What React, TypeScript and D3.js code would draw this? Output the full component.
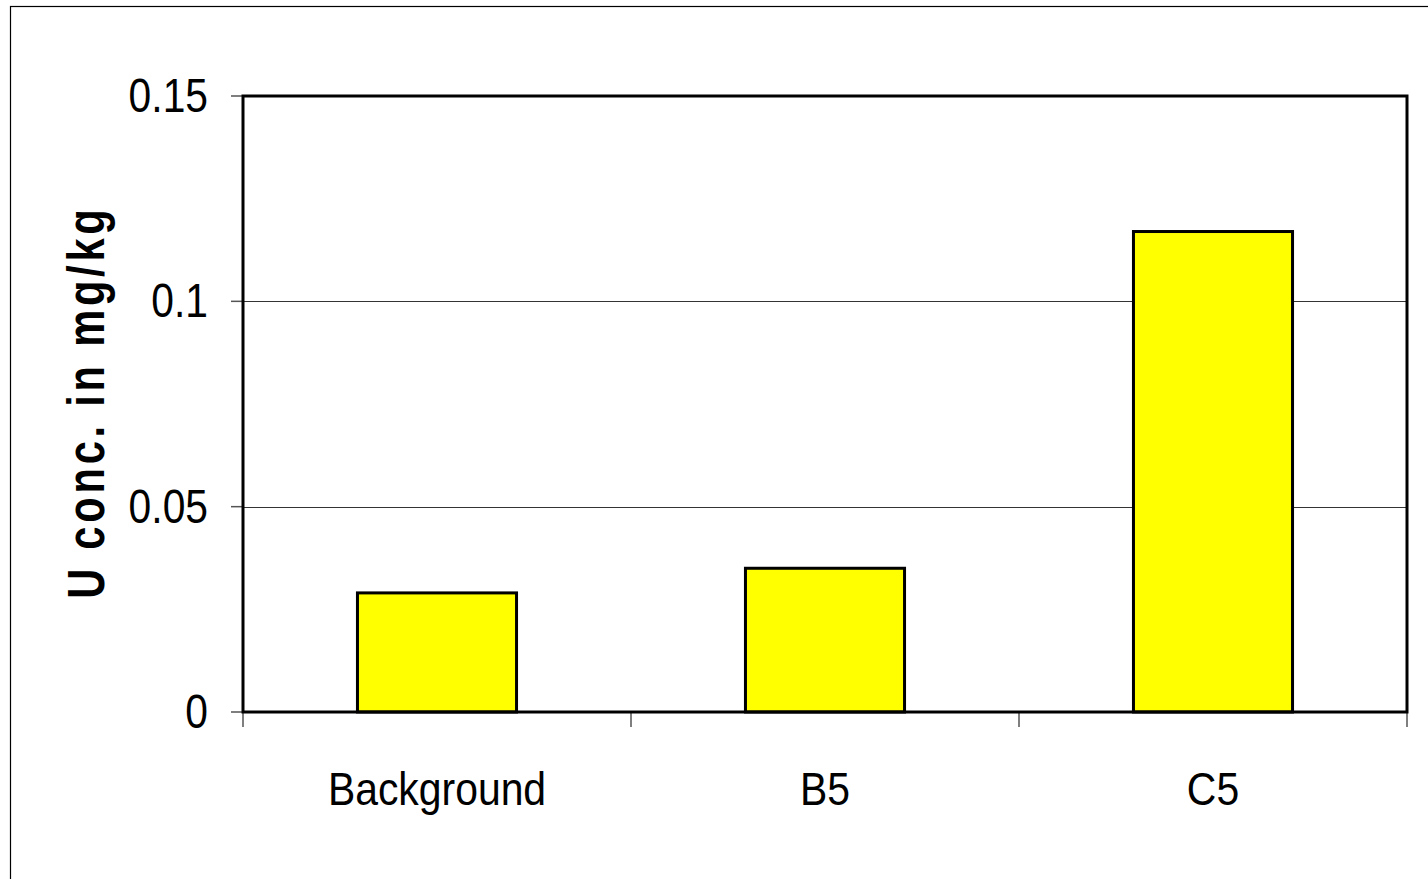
import React from "react";
import * as d3 from "d3";

const categories = ["Background", "B5", "C5"];
const values = [0.029, 0.035, 0.117];
const yTicks = [0, 0.05, 0.1, 0.15];
const yTickLabels = ["0", "0.05", "0.1", "0.15"];
const yTitle = "U conc. in mg/kg";

export default function App() {
  const W = 1428, H = 879;
  const left = 243, right = 1407, top = 96, bottom = 712;
  const y = d3.scaleLinear().domain([0, 0.15]).range([bottom, top]);
  const xBand = d3.scaleBand<string>().domain(categories).range([left, right]).paddingInner(0.59).paddingOuter(0.295);
  const xCat = d3.scaleBand<string>().domain(categories).range([left, right]).padding(0);
  const step = xCat.step();
  const font = "'Liberation Sans', Arial, sans-serif";
  return (
    <svg width={W} height={H} style={{ position: "absolute", left: 0, top: 0, background: "#fff" }}>
      <rect x={10.5} y={6.5} width={1440} height={900} fill="#fff" stroke="#000" strokeWidth={1.2} />
      {yTicks.filter(t => t > 0 && t < 0.15).map(t => (
        <line key={"g" + t} x1={left} x2={right} y1={Math.round(y(t)) + 0.5} y2={Math.round(y(t)) + 0.5} stroke="#000" strokeWidth={0.8} />
      ))}
      {yTicks.map(t => (
        <line key={"t" + t} x1={231} x2={left} y1={y(t)} y2={y(t)} stroke="#555" strokeWidth={1.5} />
      ))}
      {d3.range(categories.length + 1).map(i => (
        <line key={"xt" + i} x1={left + i * step} x2={left + i * step} y1={bottom} y2={727} stroke="#555" strokeWidth={1.5} />
      ))}
      {categories.map((c, i) => (
        <rect key={c} x={xBand(c)} y={y(values[i])} width={xBand.bandwidth()} height={bottom - y(values[i])}
          fill="#FFFF00" stroke="#000" strokeWidth={3} />
      ))}
      <rect x={left} y={top} width={right - left} height={bottom - top} fill="none" stroke="#000" strokeWidth={3} />
      {yTicks.map((t, i) => (
        <g key={"l" + t} transform={`translate(208, ${y(t) + 16}) scale(0.85, 1)`}>
          <text x={0} y={0} textAnchor="end" fontFamily={font} fontSize={48} fill="#000">{yTickLabels[i]}</text>
        </g>
      ))}
      {categories.map(c => (
        <g key={"c" + c} transform={`translate(${(xCat(c) as number) + step / 2}, 805) scale(0.87, 1)`}>
          <text x={0} y={0} textAnchor="middle" fontFamily={font} fontSize={47} fill="#000">{c}</text>
        </g>
      ))}
      <g transform={`translate(104, ${(top + bottom) / 2}) rotate(-90) scale(0.8, 1)`}>
        <text x={0} y={0} textAnchor="middle" fontFamily={font} fontWeight="bold" fontSize={52}
          textLength={487} lengthAdjust="spacing" fill="#000">{yTitle}</text>
      </g>
    </svg>
  );
}
